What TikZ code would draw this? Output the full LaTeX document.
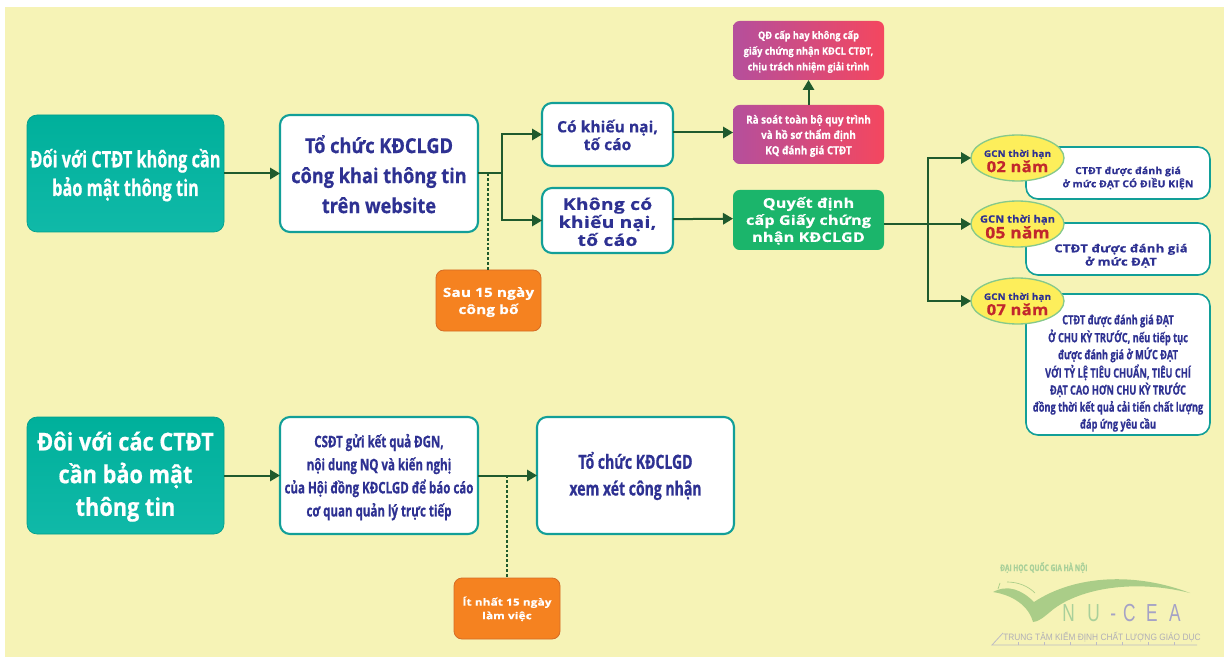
\documentclass[tikz,border=0pt]{standalone}
\usepackage{fontspec}
\setmainfont{Open Sans}
\newfontfamily\fnar[FakeStretch=0.72,BoldFeatures={FakeBold=0.6}]{Open Sans}
\newfontfamily\fmid[FakeStretch=0.88,BoldFeatures={FakeBold=0.6}]{Open Sans}
\newfontfamily\fstd[BoldFeatures={FakeBold=0.6}]{Open Sans}
\newfontfamily\fwid[FakeStretch=1.08,LetterSpace=2,BoldFeatures={FakeBold=0.6}]{Open Sans}
\newfontfamily\fxw[FakeStretch=1.2,LetterSpace=2,BoldFeatures={FakeBold=0.6}]{Open Sans}
\newfontfamily\fthin[FakeStretch=0.9]{Liberation Sans}
\newfontfamily\flogo[FakeStretch=0.7]{Liberation Sans}
\usetikzlibrary{arrows.meta,calc,shapes.geometric}
\definecolor{bgy}{HTML}{F6F3B6}
\definecolor{navy}{HTML}{2E3192}
\definecolor{tealb}{HTML}{129F98}
\definecolor{teala}{HTML}{00B09B}
\definecolor{tealc}{HTML}{10B9A8}
\definecolor{redl}{HTML}{B54F9C}
\definecolor{redr}{HTML}{F4475F}
\definecolor{grn}{HTML}{1BB56B}
\definecolor{org}{HTML}{F58220}
\definecolor{orgb}{HTML}{D56C26}
\definecolor{elly}{HTML}{FDEE5B}
\definecolor{ellb}{HTML}{86C98A}
\definecolor{yred}{HTML}{C1272D}
\definecolor{conn}{HTML}{1F5A2D}
\definecolor{logog}{HTML}{AACD88}
\definecolor{logot}{HTML}{A9D09A}
\definecolor{logop}{HTML}{A5A2C6}
\definecolor{logoq}{HTML}{BDBBC4}
\tikzset{
  base/.style={rectangle,rounded corners=7.5pt,inner sep=0pt,outer sep=0pt},
  whitebox/.style={base,draw=tealb,line width=1.6pt,fill=white,text=navy},
  tealbox/.style={base,draw=teala!90!black,line width=.5pt,top color=teala,bottom color=tealc,text=white},
  redbox/.style={base,rounded corners=5pt,left color=redl,right color=redr,text=white},
  greenbox/.style={base,rounded corners=5pt,fill=grn,text=white},
  orgbox/.style={base,rounded corners=6pt,fill=org,draw=orgb,line width=.6pt,text=white},
  tf/.style n args={3}{font={#1\bfseries\fontsize{#2}{#3}\selectfont}},
  arr/.style={draw=conn,line width=1.5pt,-{Triangle[length=7.5pt,width=8.5pt]}},
  lin/.style={draw=conn,line width=1.5pt},
  dot/.style={draw=conn,line width=1.6pt,dash pattern=on 2.2pt off 1.5pt},
  yell/.style={ellipse,draw=ellb,line width=1pt,fill=elly,inner sep=0pt,outer sep=0pt}
}
\newcommand{\bx}[8]{\node[#6,minimum width={(#4-#2)*0.75pt},minimum height={(#5-#3)*0.75pt}] (#1) at ({(#2+#4)/2},{(#3+#5)/2}) {\raisebox{\dimexpr #7pt-.36em\relax}[0pt][0pt]{\begin{tabular}{@{}c@{}}#8\end{tabular}}};}
\newcommand{\el}[5]{\node[yell,minimum width=69.75pt,minimum height=34.5pt] (#1) at (1017.5,#2) {\makebox[0pt]{\raisebox{-5pt}[0pt][0pt]{\begin{tabular}{@{}c@{}}{\fwid\bfseries\color{navy}\fontsize{#3}{11}\selectfont GCN thời hạn}\\[-1pt]{\fwid\bfseries\color{yred}\fontsize{#4}{13}\selectfont #5}\end{tabular}}}};}
\begin{document}
\begin{tikzpicture}[x=0.75pt,y=-0.75pt]
\useasboundingbox (0,0) rectangle (1224,659);
\fill[white] (0,0) rectangle (1224,659);
\fill[bgy] (5,7) rectangle (1224,657);

% logo
\fill[logog] (993,592) .. controls (1008,584) and (1022,590) .. (1034,602) .. controls (1075,575) and (1135,572) .. (1190,593) .. controls (1130,578) and (1075,590) .. (1050,612) .. controls (1044,617) and (1038,622) .. (1033,622) .. controls (1030,610) and (1018,596) .. (993,592) -- cycle;
\draw[logog,line width=.5pt] (1007,582) .. controls (1018,582) and (1028,586) .. (1035,593);
\draw[logog,line width=.5pt] (998,589) -- (1000,583);
\node[inner sep=0pt,anchor=base west,text=logot] (lg1) at (1000,571) {\fnar\bfseries\fontsize{6.8}{8}\selectfont ĐẠI HỌC QUỐC GIA HÀ NỘI};
\node[inner sep=0pt,anchor=base west,text=logot] (lg2) at (1062,621) {\flogo\fontsize{18.5}{20}\selectfont N\kern 9.4pt U};
\node[inner sep=0pt,anchor=base west,text=logop] (lg3) at (1110,621) {\flogo\fontsize{18.5}{20}\selectfont -\kern 5.4pt C\kern 7.9pt E\kern 8.6pt A};
\node[inner sep=0pt,anchor=base west,text=logoq!80!gray] (lg4) at (1003,640) {\fthin\fontsize{6.95}{10}\selectfont TRUNG TÂM KIỂM ĐỊNH CHẤT LƯỢNG GIÁO DỤC};
\draw[logoq,line width=.6pt] (1003,633) -- (992,645) -- (1197,645);
\foreach \tx in {1018,1044,1070,1096,1122,1148,1174} \draw[logoq,line width=.5pt] (\tx,645) -- (\tx,642);

% boxes
\bx{L1}{27}{115}{224}{232}{tealbox,tf={\fnar}{17}{21.5}}{0}{Đối với CTĐT không cần\\bảo mật thông tin}
\bx{W1}{280}{115}{478}{232}{whitebox,tf={\fmid}{15.5}{22.5}}{-.7}{Tổ chức KĐCLGD\\công khai thông tin\\trên website}
\bx{K1}{542}{103}{673}{166}{whitebox,tf={\fstd}{11.7}{12.8}}{-1}{Có khiếu nại,\\tố cáo}
\bx{K2}{542}{188}{673}{253}{whitebox,tf={\fxw}{12}{12.5}}{-1.5}{Không có\\khiếu nại,\\tố cáo}
\bx{R2}{733}{21}{884}{80}{redbox,tf={\fmid}{7.8}{11.8}}{0}{QĐ cấp hay không cấp\\giấy chứng nhận KĐCL CTĐT,\\chịu trách nhiệm giải trình}
\bx{R1}{733}{105}{884}{164}{redbox,tf={\fmid}{8.4}{11.5}}{0}{Rà soát toàn bộ quy trình\\và hồ sơ thẩm định\\KQ đánh giá CTĐT}
\bx{G}{733}{190}{884}{250}{greenbox,tf={\fxw}{10}{12.8}}{0}{Quyết định\\cấp Giấy chứng\\nhận KĐCLGD}
\bx{O1}{436}{270}{541}{331}{orgbox,tf={\fxw}{9.5}{12.8}}{0}{Sau 15 ngày\\công bố}
\bx{B02}{1026}{147}{1210}{199}{whitebox,rounded corners=9pt,line width=1.2pt,tf={\fwid}{7.2}{9.5}}{-3}{\hspace*{15pt}\begin{tabular}{@{}c@{}}CTĐT được đánh giá\\ở mức ĐẠT CÓ ĐIỀU KIỆN\end{tabular}}
\bx{B05}{1026}{223}{1210}{275}{whitebox,rounded corners=9pt,line width=1.2pt,tf={\fxw}{8.2}{10}}{-4.5}{\hspace*{4.5pt}\begin{tabular}{@{}c@{}}CTĐT được đánh giá\\ở mức ĐẠT\end{tabular}}
\bx{B07}{1026}{294}{1210}{435}{whitebox,rounded corners=9pt,line width=1.2pt,tf={\fnar}{9.6}{12.75}}{-5.5}{CTĐT được đánh giá ĐẠT\\Ở CHU KỲ TRƯỚC, nếu tiếp tục\\được đánh giá ở MỨC ĐẠT\\VỚI TỶ LỆ TIÊU CHUẨN, TIÊU CHÍ\\ĐẠT CAO HƠN CHU KỲ TRƯỚC\\đồng thời kết quả cải tiến chất lượng\\đáp ứng yêu cầu}
\el{E02}{158}{6.8}{11.5}{02 năm}
\el{E05}{224}{7.6}{12}{05 năm}
\el{E07}{301}{6.8}{11.5}{07 năm}
\bx{L2}{27}{417}{224}{534}{tealbox,tf={\fmid}{18.5}{24.5}}{1.5}{Đôi với các CTĐT\\cần bảo mật\\thông tin}
\bx{W2}{280}{417}{478}{534}{whitebox,tf={\fnar}{12}{17.3}}{0}{CSĐT gửi kết quả ĐGN,\\nội dung NQ và kiến nghị\\của Hội đồng KĐCLGD để báo cáo\\cơ quan quản lý trực tiếp}
\bx{Res}{537}{417}{734}{534}{whitebox,tf={\fnar}{14.6}{20}}{.7}{Tổ chức KĐCLGD\\xem xét công nhận}
\bx{O2}{454}{578}{560}{639}{orgbox,tf={\fxw}{7.3}{10.2}}{0}{Ít nhất 15 ngày\\làm việc}

% connectors
\coordinate (j1) at (502,173.5);
\coordinate (d1) at (488,173.5);
\coordinate (d2) at (507,475.5);
\coordinate (j2) at (928,224);
\draw[arr] (L1.east) -- (W1.west);
\draw[lin] (W1.east) -- (j1);
\draw[arr] (j1) |- (K1.west);
\draw[arr] (j1) |- (K2.west);
\draw[dot] (d1) -- (O1.north -| d1);
\draw[arr] ([yshift=1.5pt]K1.east) -- ([yshift=1.5pt]R1.west);
\draw[arr] ([yshift=1pt]K2.east) -- ([yshift=1pt]G.west);
\draw[arr] (R1.north) -- (R2.south);
\draw[arr] (G.east |- j2) -- (E05.west);
\draw[arr] (j2) |- (E02.west);
\draw[arr] (j2) |- (E07.west);
\draw[arr] (L2.east) -- (W2.west);
\draw[arr] (W2.east) -- (Res.west);
\draw[dot] (d2) -- (O2.north -| d2);
\end{tikzpicture}
\end{document}
